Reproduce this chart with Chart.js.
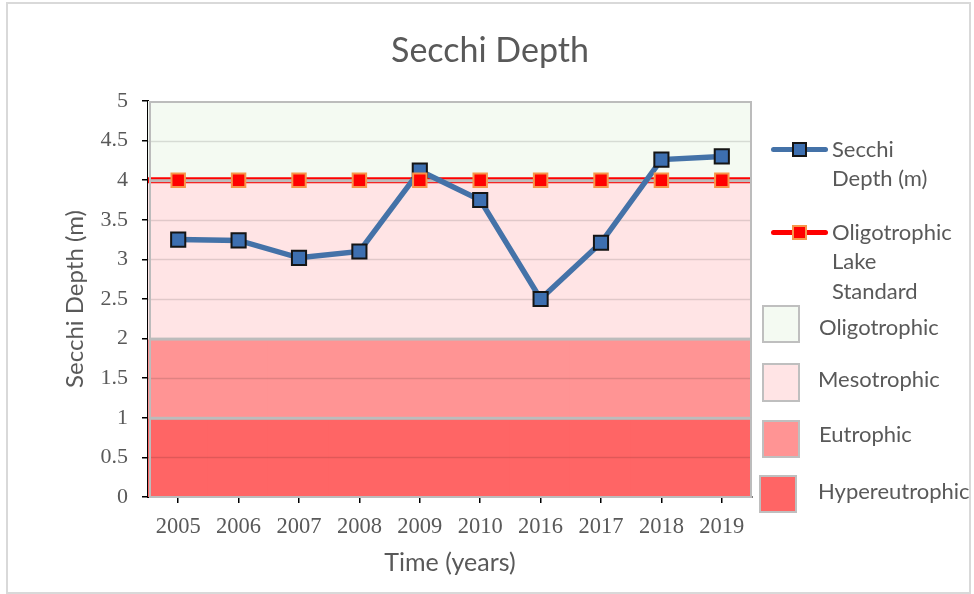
<!DOCTYPE html>
<html>
<head>
<meta charset="utf-8">
<script src="https://cdn.jsdelivr.net/npm/chart.js@4/dist/chart.umd.min.js"></script>
<style>
  html, body { margin: 0; padding: 0; background: #fff; }
  #wrap { position: relative; width: 974px; height: 594px; overflow: hidden; }
  #c { position: absolute; left: 0; top: 0; }
  #frame { position: absolute; left: 6px; top: 2px; width: 965px; height: 592px; box-sizing: border-box; border: 2px solid #D9D9D9; pointer-events: none; }
  #title { position: absolute; left: 0; width: 980px; top: 27px; height: 44px; line-height: 44px; text-align: center; font-family: Lato, sans-serif; font-size: 34px; color: #595959; }
  .lg { position: absolute; font-family: Lato, sans-serif; font-size: 22px; color: #595959; line-height: 26px; height: 26px; white-space: nowrap; }
  .ln { position: absolute; height: 5px; border-radius: 3px; }
  .mk { position: absolute; width: 15px; height: 15px; box-sizing: border-box; border: 2px solid; }
  .sw { position: absolute; box-sizing: border-box; border: 2px solid #BFBFBF; }
</style>
</head>
<body>
<div id="wrap">
  <canvas id="c" width="974" height="594"></canvas>
  <div id="frame"></div>
  <div id="title">Secchi Depth</div>
  <div id="legend"></div>
</div>
<script>
// ---- data ----
const years = ['2005','2006','2007','2008','2009','2010','2016','2017','2018','2019'];
const secchiDepth = [3.25, 3.24, 3.02, 3.10, 4.12, 3.75, 2.50, 3.21, 4.26, 4.30];
const oligoStandard = [4, 4, 4, 4, 4, 4, 4, 4, 4, 4];
const standardValue = 4;
const bandNames = ['Oligotrophic', 'Mesotrophic', 'Eutrophic', 'Hypereutrophic'];
const bandLower = [4, 2, 1, 0];
const bandUpper = [5, 4, 2, 1];
const bandColors = ['#F4FAF2', '#FFE4E5', '#FF9494', '#FF6565'];
const yTicks = [0, 0.5, 1, 1.5, 2, 2.5, 3, 3.5, 4, 4.5, 5];

const TEXT = '#595959';
const n = years.length;

const bandDatasets = bandNames.map((name, b) => ({
  type: 'bar',
  label: name,
  data: years.map(() => [bandLower[b], bandUpper[b]]),
  backgroundColor: bandColors[b],
  borderWidth: 0,
  grouped: false,
  categoryPercentage: 1,
  barPercentage: 1,
  inflateAmount: 1
}));

// gridlines and band outlines drawn over the bands (after the standard line)
const gridOverBands = {
  id: 'gridOverBands',
  afterDatasetDraw(chart, args) {
    if (args.index !== 2) return;
    const { ctx, chartArea } = chart;
    const y = chart.scales.y;
    ctx.save();
    ctx.strokeStyle = 'rgba(0,0,0,0.12)';
    ctx.lineWidth = 1.5;
    yTicks.forEach(v => {
      if (bandLower.includes(v) || bandUpper.includes(v)) return;
      const py = Math.round(y.getPixelForValue(v)) + 0.5;
      ctx.beginPath();
      ctx.moveTo(chartArea.left, py);
      ctx.lineTo(chartArea.right, py);
      ctx.stroke();
    });
    ctx.strokeStyle = '#BCBCBC';
    ctx.lineWidth = 2;
    bandLower.forEach((lo, b) => {
      const top = y.getPixelForValue(bandUpper[b]);
      const bot = y.getPixelForValue(lo);
      ctx.strokeRect(chartArea.left + 2, top + 1, chartArea.right - chartArea.left - 3, bot - top - 1);
    });
    ctx.restore();
  }
};

new Chart(document.getElementById('c'), {
  type: 'bar',
  data: {
    labels: years,
    datasets: [
      {
        type: 'line',
        label: 'Oligotrophic Lake Standard',
        data: oligoStandard,
        showLine: false,
        pointStyle: 'rect',
        pointRadius: 9.5,
        pointBackgroundColor: '#FF0000',
        pointBorderColor: '#F7964A',
        pointBorderWidth: 2
      },
      {
        type: 'line',
        label: 'Secchi Depth (m)',
        data: secchiDepth,
        borderColor: '#4472A8',
        borderWidth: 5.5,
        tension: 0,
        pointStyle: 'rect',
        pointRadius: 10,
        pointBackgroundColor: '#3D6FB0',
        pointBorderColor: '#151515',
        pointBorderWidth: 2
      },
      {
        type: 'line',
        label: 'standard line',
        xAxisID: 'x2',
        data: [{ x: -0.5, y: standardValue }, { x: n - 0.5, y: standardValue }],
        borderColor: '#FF0000',
        borderWidth: 6,
        pointRadius: 0
      },
      ...bandDatasets
    ]
  },
  options: {
    responsive: false,
    devicePixelRatio: 1,
    animation: false,
    events: [],
    layout: { padding: { left: 8, right: 222, top: 101, bottom: 2 } },
    plugins: {
      legend: { display: false },
      tooltip: { enabled: false },
      title: { display: false }
    },
    scales: {
      x: {
        type: 'category',
        offset: true,
        grid: { offset: false, drawOnChartArea: false, drawTicks: true, tickLength: 6, color: '#000', lineWidth: 1.5 },
        border: { color: '#000', width: 2 },
        ticks: { color: TEXT, font: { family: 'Liberation Serif', size: 22.5 }, padding: 11, maxRotation: 0, autoSkip: false },
        title: { display: true, text: 'Time (years)', color: TEXT, font: { family: 'Lato', size: 25 }, padding: { top: 0, bottom: 14 } },
        afterFit: s => { s.height = 95; }
      },
      x2: {
        type: 'linear',
        display: false,
        offset: false,
        min: -0.5,
        max: n - 0.5
      },
      y: {
        type: 'linear',
        min: 0,
        max: 5,
        afterBuildTicks: s => { s.ticks = yTicks.map(v => ({ value: v })); },
        grid: { drawOnChartArea: false, drawTicks: true, tickLength: 6, color: '#000', lineWidth: 1.5 },
        border: { color: '#000', width: 2 },
        ticks: { color: TEXT, font: { family: 'Liberation Serif', size: 22 }, padding: 14, callback: v => String(v) },
        title: { display: true, text: 'Secchi Depth (m)', color: TEXT, font: { family: 'Lato', size: 24 }, padding: { top: 53, bottom: 0 } },
        afterFit: s => { s.width = 140; }
      }
    }
  },
  plugins: [gridOverBands]
});

// ---- legend (HTML) ----
const lg = document.getElementById('legend');
function add(html) { lg.insertAdjacentHTML('beforeend', html); }
function textAt(t, x, cy) { add(`<div class="lg" style="left:${x}px;top:${cy - 13}px">${t}</div>`); }

add(`<div class="ln" style="left:771px;top:146.5px;width:57px;background:#4472A8"></div>`);
add(`<div class="mk" style="left:792px;top:141.5px;background:#3D6FB0;border-color:#151515"></div>`);
textAt('Secchi', 832, 149);
textAt('Depth (m)', 832, 178);

add(`<div class="ln" style="left:771px;top:229.5px;width:57px;background:#FF0000"></div>`);
add(`<div class="mk" style="left:792px;top:224.5px;background:#FF0000;border-color:#F7964A"></div>`);
textAt('Oligotrophic', 832, 232);
textAt('Lake', 832, 261);
textAt('Standard', 832, 291);

const swatches = [
  { x: 762, y: 305, w: 38, h: 38, tx: 819, ty: 327 },
  { x: 762, y: 363, w: 38, h: 39, tx: 818, ty: 379 },
  { x: 762, y: 420, w: 38, h: 38, tx: 819, ty: 434 },
  { x: 759, y: 475, w: 38, h: 38, tx: 818, ty: 491 }
];
swatches.forEach((s, i) => {
  add(`<div class="sw" style="left:${s.x}px;top:${s.y}px;width:${s.w}px;height:${s.h}px;background:${bandColors[i]}"></div>`);
  textAt(bandNames[i], s.tx, s.ty);
});
</script>
</body>
</html>
